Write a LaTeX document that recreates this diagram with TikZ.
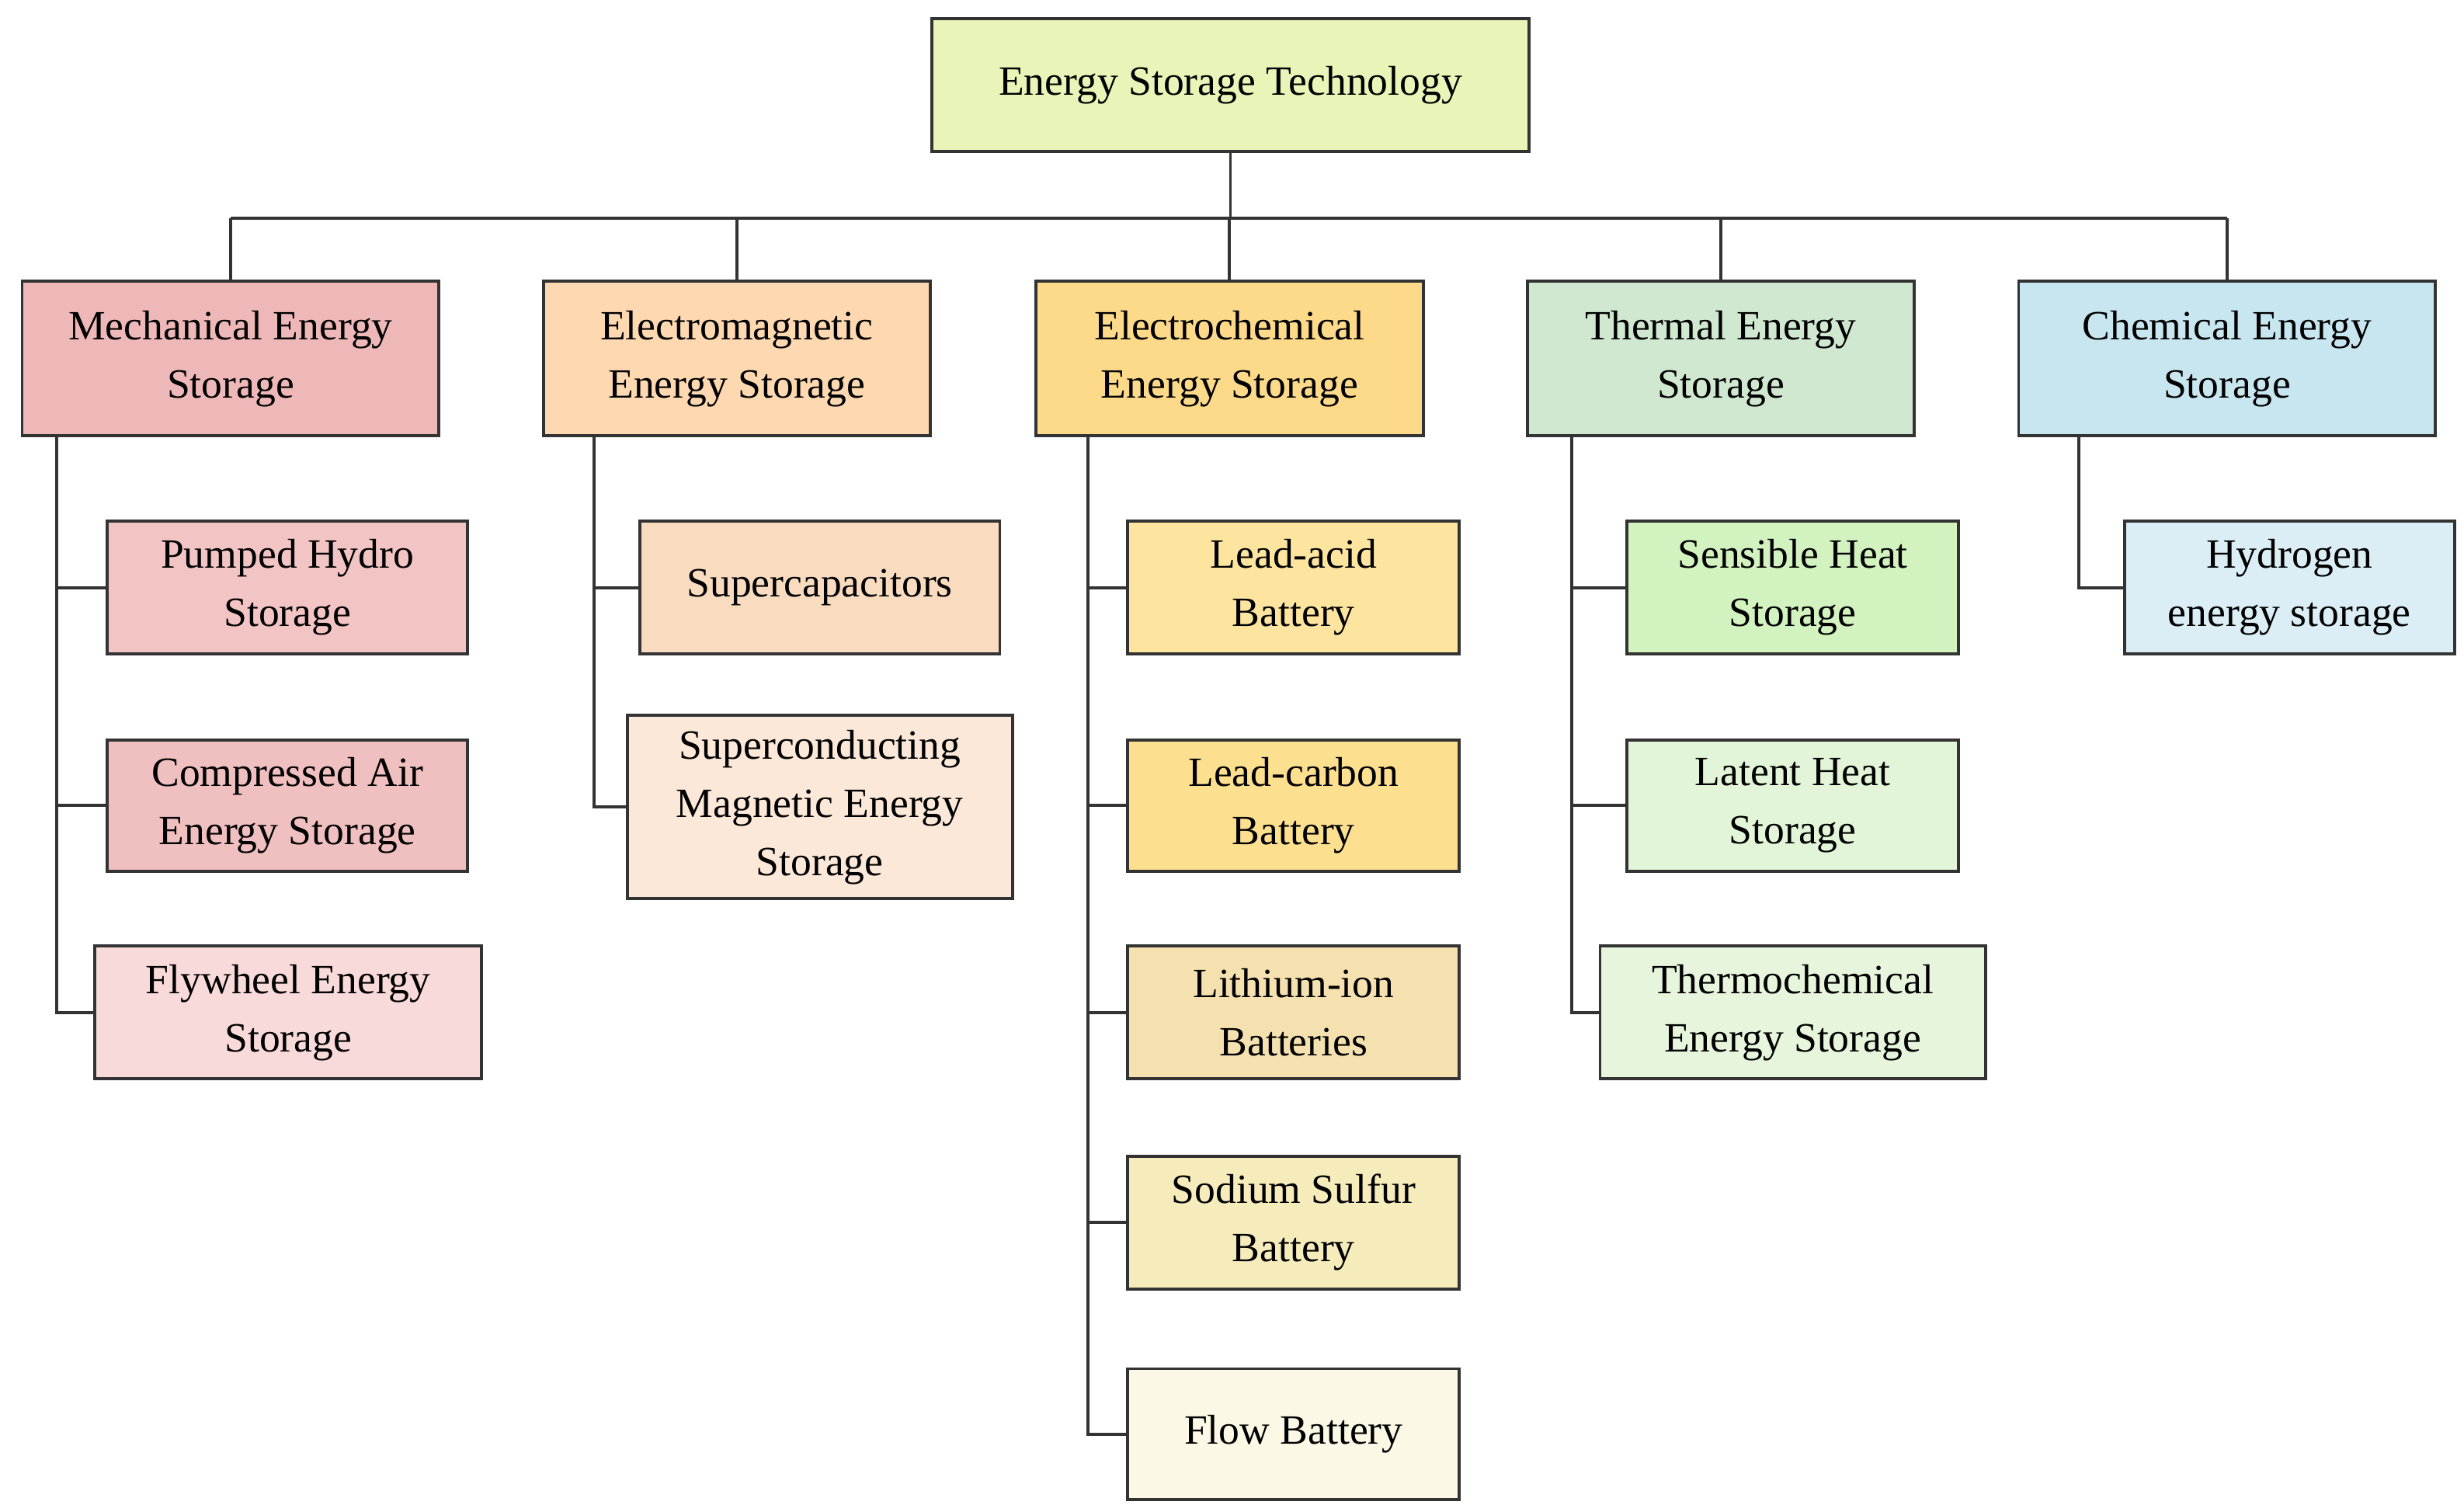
\documentclass[tikz,border=0pt]{standalone}
\usepackage{fontspec}
\setmainfont{Liberation Serif}
\usetikzlibrary{positioning}
\definecolor{rootc}{HTML}{E9F5B8}
\definecolor{mechc}{HTML}{EFB8B8}
\definecolor{pumpc}{HTML}{F2C4C4}
\definecolor{compc}{HTML}{F0BFBF}
\definecolor{flyc}{HTML}{F9DADA}
\definecolor{emc}{HTML}{FDD8B0}
\definecolor{capc}{HTML}{F9DCC0}
\definecolor{smesc}{HTML}{FBE8D8}
\definecolor{ecc}{HTML}{FDDA8A}
\definecolor{leadac}{HTML}{FDE5A0}
\definecolor{leadcc}{HTML}{FDDF90}
\definecolor{lic}{HTML}{F5E1B0}
\definecolor{nasc}{HTML}{F5EBBB}
\definecolor{flowc}{HTML}{FCF8E6}
\definecolor{thc}{HTML}{D0E8D0}
\definecolor{sensc}{HTML}{D2F2C0}
\definecolor{latc}{HTML}{E2F5D8}
\definecolor{tcc}{HTML}{E6F5DC}
\definecolor{chc}{HTML}{C8E6F0}
\definecolor{h2c}{HTML}{DCEEF5}
\definecolor{linec}{HTML}{333333}

\begin{document}
\begin{tikzpicture}[x=0.02cm,y=-0.02cm,
    box/.style={draw=linec, line width=1.1pt, align=center, inner sep=0pt,
      font=\fontsize{15}{21}\selectfont},
    wire/.style={draw=linec, line width=1.1pt}]
  \useasboundingbox (0,0) rectangle (1560,957);

  \node[box, fill=rootc, minimum width=7.56cm, minimum height=1.68cm] (root) at (779,54) {Energy Storage Technology};

  % first level
  \node[box, fill=mechc, minimum width=5.28cm, minimum height=1.96cm] (mech) at (146,227) {Mechanical Energy\\Storage};
  \node[box, fill=emc, minimum width=4.9cm, minimum height=1.96cm] (em) at (466.5,227) {Electromagnetic\\Energy Storage};
  \node[box, fill=ecc, minimum width=4.9cm, minimum height=1.96cm] (ec) at (778.5,227) {Electrochemical\\Energy Storage};
  \node[box, fill=thc, minimum width=4.9cm, minimum height=1.96cm] (th) at (1089.5,227) {Thermal Energy\\Storage};
  \node[box, fill=chc, minimum width=5.28cm, minimum height=1.96cm] (ch) at (1410,227) {Chemical Energy\\Storage};

  % mechanical
  \node[box, fill=pumpc, minimum width=4.56cm, minimum height=1.68cm] (pump) at (182,372) {Pumped Hydro\\Storage};
  \node[box, fill=compc, minimum width=4.56cm, minimum height=1.66cm] (comp) at (182,510) {Compressed Air\\Energy Storage};
  \node[box, fill=flyc, minimum width=4.9cm, minimum height=1.68cm] (fly) at (182.5,641) {Flywheel Energy\\Storage};

  % electromagnetic
  \node[box, fill=capc, minimum width=4.56cm, minimum height=1.68cm] (cap) at (519,372) {Supercapacitors};
  \node[box, fill=smesc, minimum width=4.88cm, minimum height=2.32cm] (smes) at (519,511) {Superconducting\\Magnetic Energy\\Storage};

  % electrochemical
  \node[box, fill=leadac, minimum width=4.2cm, minimum height=1.68cm] (leada) at (819,372) {Lead-acid\\Battery};
  \node[box, fill=leadcc, minimum width=4.2cm, minimum height=1.66cm] (leadc) at (819,510) {Lead-carbon\\Battery};
  \node[box, fill=lic, minimum width=4.2cm, minimum height=1.68cm] (li) at (819,641) {Lithium-ion\\Batteries};
  \node[box, fill=nasc, minimum width=4.2cm, minimum height=1.68cm] (nas) at (819,774) {Sodium Sulfur\\Battery};
  \node[box, fill=flowc, minimum width=4.2cm, minimum height=1.66cm] (flow) at (819,908) {Flow Battery};

  % thermal
  \node[box, fill=sensc, minimum width=4.2cm, minimum height=1.68cm] (sens) at (1135,372) {Sensible Heat\\Storage};
  \node[box, fill=latc, minimum width=4.2cm, minimum height=1.66cm] (lat) at (1135,510) {Latent Heat\\Storage};
  \node[box, fill=tcc, minimum width=4.88cm, minimum height=1.68cm] (tc) at (1135,641) {Thermochemical\\Energy Storage};

  % chemical
  \node[box, fill=h2c, minimum width=4.18cm, minimum height=1.68cm] (h2) at (1449.5,372) {Hydrogen\\energy storage};

  % top bus
  \coordinate (bus) at (779,138);
  \draw[wire] (root.south) -- (bus);
  \draw[wire] (bus -| mech.north) -- (bus -| ch.north);
  \foreach \n in {mech,em,ec,th,ch}
    \draw[wire] (bus -| \n.north) -- (\n.north);

  % trunks
  \coordinate (mt) at (36,276);
  \coordinate (et) at (376,276);
  \coordinate (ct) at (689,276);
  \coordinate (tt) at (995,276);
  \coordinate (ht) at (1316,276);
  \foreach \c in {pump,comp,fly} \draw[wire] (mt) |- (\c.west);
  \foreach \c in {cap,smes} \draw[wire] (et) |- (\c.west);
  \foreach \c in {leada,leadc,li,nas,flow} \draw[wire] (ct) |- (\c.west);
  \foreach \c in {sens,lat,tc} \draw[wire] (tt) |- (\c.west);
  \draw[wire] (ht) |- (h2.west);
\end{tikzpicture}
\end{document}
